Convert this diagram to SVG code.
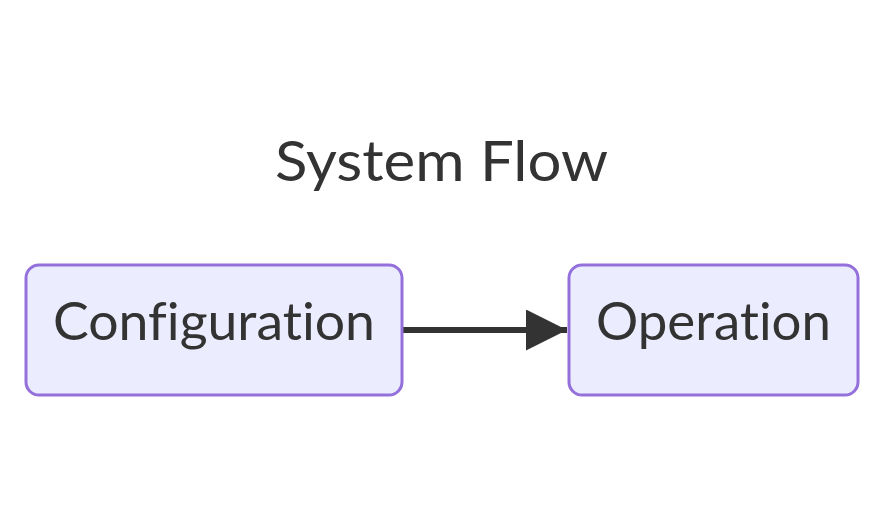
<svg xmlns="http://www.w3.org/2000/svg" width="885" height="521" viewBox="0 0 885 521">
<style>
.node rect{fill:#ECECFF;stroke:#9370DB;stroke-width:3}
text{font-family:Lato,"Open Sans","DejaVu Sans",sans-serif;fill:#333333;font-variant-ligatures:none;font-feature-settings:"liga" 0,"clig" 0}
.lbl{font-size:53px;text-anchor:middle}
.title{font-size:57px;text-anchor:middle}
.edge{stroke:#333333;stroke-width:6;fill:none}
</style>
<defs>
<marker id="arrow" markerUnits="userSpaceOnUse" markerWidth="42" markerHeight="42" refX="41" refY="20.5" orient="auto" viewBox="0 0 42 42">
<path d="M0,0 L41,20.5 L0,41 Z" fill="#333333"/>
</marker>
</defs>
<rect width="885" height="521" fill="#ffffff"/>
<text class="title" x="441.5" y="181" textLength="333" lengthAdjust="spacingAndGlyphs">System Flow</text>
<g id="connectors">
<path class="edge" d="M402,330 L567,330" marker-end="url(#arrow)"/>
</g>
<g id="node-configuration" class="node">
<rect x="26" y="265" width="376" height="130" rx="13" ry="13"/>
<text class="lbl" x="214" y="340" textLength="322" lengthAdjust="spacingAndGlyphs">Configuration</text>
</g>
<g id="node-operation" class="node">
<rect x="569" y="265" width="289" height="130" rx="13" ry="13"/>
<text class="lbl" x="713.5" y="340" textLength="235" lengthAdjust="spacingAndGlyphs">Operation</text>
</g>
</svg>
